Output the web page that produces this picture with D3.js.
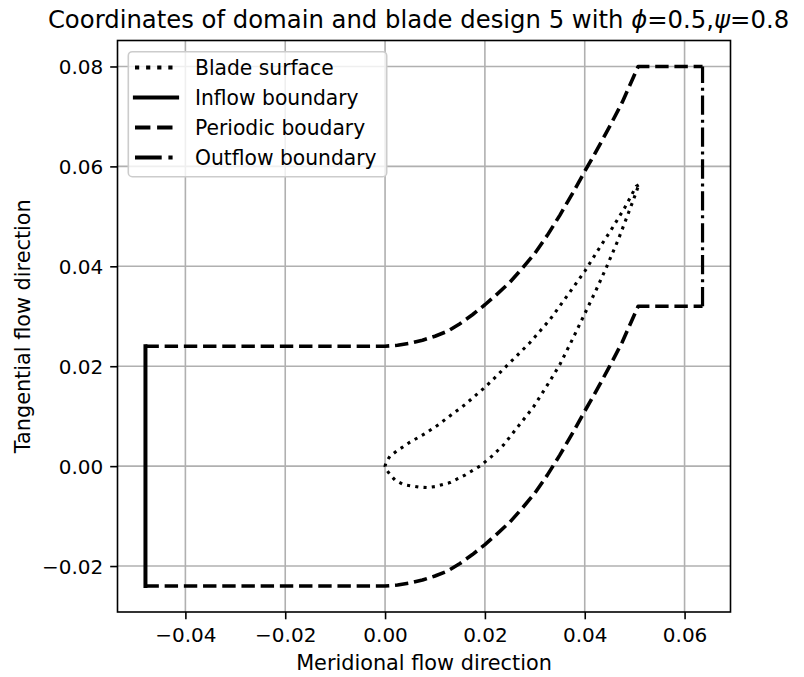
<!DOCTYPE html>
<html>
<head>
<meta charset="utf-8">
<script src="https://cdn.jsdelivr.net/npm/d3@7"></script>
<style>
  html, body { margin: 0; padding: 0; background: #fff; }
  svg { display: block; }
  text { font-family: "DejaVu Sans", sans-serif; fill: #000; }
</style>
</head>
<body>
<script>
// ---------------- data ----------------
const xTicks = [-0.04, -0.02, 0.00, 0.02, 0.04, 0.06];
const yTicks = [-0.02, 0.00, 0.02, 0.04, 0.06, 0.08];
const xDomain = [-0.0536, 0.0692];
const yDomain = [-0.0292, 0.0852];

const periodicX      = [-0.048, 0.0, 0.0025, 0.005, 0.0075, 0.01, 0.0125, 0.015, 0.0175, 0.02, 0.0225, 0.025, 0.0275, 0.03, 0.0325, 0.035, 0.0375, 0.04, 0.0425, 0.045, 0.0475, 0.0507, 0.0636];
const periodicUpperY = [0.024, 0.024, 0.0242, 0.0246, 0.0252, 0.026, 0.027, 0.0285, 0.0303, 0.0323, 0.0345, 0.0368, 0.0396, 0.0426, 0.0462, 0.0502, 0.0545, 0.059, 0.0634, 0.068, 0.0728, 0.08, 0.08];
const periodicLowerY = [-0.024, -0.024, -0.0238, -0.0234, -0.0228, -0.022, -0.021, -0.0195, -0.0177, -0.0157, -0.0135, -0.0112, -0.0084, -0.0054, -0.0018, 0.0022, 0.0065, 0.011, 0.0154, 0.02, 0.0248, 0.032, 0.032];

const inflowX  = [-0.048, -0.048];
const inflowY  = [-0.024, 0.024];
const outflowX = [0.0636, 0.0636];
const outflowY = [0.032, 0.08];

const bladeX = [0.0508, 0.0503, 0.048, 0.0453, 0.0427, 0.04, 0.037, 0.033, 0.029, 0.0243, 0.022, 0.0197, 0.0183, 0.016, 0.0133, 0.0107, 0.008, 0.005, 0.0023, 0.001, 0.0002, 0.0,
                0.0004, 0.001, 0.002, 0.0037, 0.0067, 0.0085, 0.01, 0.013, 0.016, 0.019, 0.0213, 0.0237, 0.0267, 0.0297, 0.0325, 0.035, 0.0375, 0.04, 0.0423, 0.0443, 0.0467, 0.049, 0.0503, 0.0508];
const bladeY = [0.0563, 0.056, 0.0517, 0.0473, 0.0433, 0.039, 0.0348, 0.0293, 0.0247, 0.02, 0.0177, 0.0155, 0.0143, 0.0123, 0.0103, 0.0083, 0.0065, 0.0048, 0.003, 0.002, 0.0008, 0.0,
                -0.0009, -0.0017, -0.0028, -0.0037, -0.0042, -0.0043, -0.0041, -0.0033, -0.0018, 0.0, 0.0019, 0.0042, 0.008, 0.0118, 0.0162, 0.0203, 0.0253, 0.0305, 0.0353, 0.0397, 0.0453, 0.0513, 0.0548, 0.0563];

const legendLabels = ["Blade surface", "Inflow boundary", "Periodic boudary", "Outflow boundary"];
const titleParts = [
  {t: "Coordinates of domain and blade design 5 with ", it: false},
  {t: "\u03D5", it: true}, {t: "=0.5,", it: false},
  {t: "\u03C8", it: true}, {t: "=0.8", it: false}
];

// ---------------- layout ----------------
const W = 804, H = 677;
const M = {left: 117.5, right: 730.5, top: 40.5, bottom: 612};
const tickFont = 20, labelFont = 20.8, titleFont = 25;

const x = d3.scaleLinear().domain(xDomain).range([M.left, M.right]);
const y = d3.scaleLinear().domain(yDomain).range([M.bottom, M.top]);

const svg = d3.select("body").append("svg").attr("width", W).attr("height", H);

// grid
const grid = svg.append("g").attr("stroke", "#b0b0b0").attr("stroke-width", 1.6);
grid.selectAll(".gx").data(xTicks).join("line")
  .attr("x1", d => x(d)).attr("x2", d => x(d)).attr("y1", M.top).attr("y2", M.bottom);
grid.selectAll(".gy").data(yTicks).join("line")
  .attr("y1", d => y(d)).attr("y2", d => y(d)).attr("x1", M.left).attr("x2", M.right);

const fmt = d => (d < 0 ? "\u2212" : "") + d3.format(".2f")(Math.abs(d));

// axes
const xAxis = d3.axisBottom(x).tickValues(xTicks).tickFormat(fmt).tickSizeInner(7.3).tickSizeOuter(0).tickPadding(7);
const yAxis = d3.axisLeft(y).tickValues(yTicks).tickFormat(fmt).tickSizeInner(7.3).tickSizeOuter(0).tickPadding(7);
const gx = svg.append("g").attr("transform", `translate(0,${M.bottom})`).call(xAxis);
const gy = svg.append("g").attr("transform", `translate(${M.left},0)`).call(yAxis);
[gx, gy].forEach(g => {
  g.select(".domain").remove();
  g.selectAll(".tick line").attr("stroke", "#000").attr("stroke-width", 1.6);
  g.selectAll(".tick text").attr("font-family", "DejaVu Sans").attr("font-size", tickFont).attr("fill", "#000");
});
gx.selectAll(".tick text").attr("dy", "0.76em");
gy.selectAll(".tick text").attr("dy", "0.36em");

// lines
const line = d3.line().x(d => x(d[0])).y(d => y(d[1]));
const zip = (a, b) => a.map((v, i) => [v, b[i]]);
const plot = svg.append("g").attr("fill", "none").attr("stroke", "#000")
  .attr("stroke-linejoin", "round");

plot.append("path").attr("d", line(zip(bladeX, bladeY)))
  .attr("stroke-width", 3.1).attr("stroke-dasharray", "3.1,5.2");
plot.append("path").attr("d", line(zip(inflowX, inflowY)))
  .attr("stroke-width", 4).attr("stroke-linecap", "square");
plot.append("path").attr("d", line(zip(periodicX, periodicUpperY)))
  .attr("stroke-width", 3.6).attr("stroke-dasharray", "13.4,5.8");
plot.append("path").attr("d", line(zip(periodicX, periodicLowerY)))
  .attr("stroke-width", 3.6).attr("stroke-dasharray", "13.4,5.8");
plot.append("path").attr("d", line(zip(outflowX, outflowY)))
  .attr("stroke-width", 3.2).attr("stroke-dasharray", "19.3,4.8,3,4.8");

// spines
svg.append("rect").attr("x", M.left).attr("y", M.top)
  .attr("width", M.right - M.left).attr("height", M.bottom - M.top)
  .attr("fill", "none").attr("stroke", "#000").attr("stroke-width", 1.6);

// legend
const lg = svg.append("g");
lg.append("rect").attr("x", 128.3).attr("y", 51.7).attr("width", 258.4).attr("height", 125)
  .attr("rx", 4).attr("ry", 4)
  .attr("fill", "#fff").attr("fill-opacity", 0.8).attr("stroke", "#cccccc").attr("stroke-width", 1.6);
const handleStyles = [
  {w: 4.2, dash: "4.2,6.9", cap: "butt"},
  {w: 4.2, dash: null, cap: "square"},
  {w: 4.2, dash: "15.4,6.7", cap: "butt"},
  {w: 4.2, dash: "26.7,6.7,4.2,6.7", cap: "butt"}
];
legendLabels.forEach((lab, i) => {
  const cy = 67.5 + i * 30;
  const s = handleStyles[i];
  const ln = lg.append("line").attr("x1", 135).attr("x2", 177).attr("y1", cy).attr("y2", cy)
    .attr("stroke", "#000").attr("stroke-width", s.w).attr("stroke-linecap", s.cap);
  if (s.dash) ln.attr("stroke-dasharray", s.dash);
  lg.append("text").attr("transform", `translate(195,${cy}) scale(0.975,1)`).attr("dy", "0.36em")
    .attr("font-size", labelFont).text(lab);
});

// title
const title = svg.append("text").attr("transform", `translate(418.5,28) scale(0.973,1)`)
  .attr("text-anchor", "middle").attr("font-size", titleFont);
titleParts.forEach(p => {
  title.append("tspan").attr("font-style", p.it ? "italic" : "normal").text(p.t);
});

// axis labels
svg.append("text").attr("x", (M.left + M.right) / 2).attr("y", 670)
  .attr("text-anchor", "middle").attr("font-size", labelFont).text("Meridional flow direction");
svg.append("text").attr("transform", `translate(30,${(M.top + M.bottom) / 2}) rotate(-90)`)
  .attr("text-anchor", "middle").attr("font-size", labelFont).text("Tangential flow direction");
</script>
</body>
</html>
